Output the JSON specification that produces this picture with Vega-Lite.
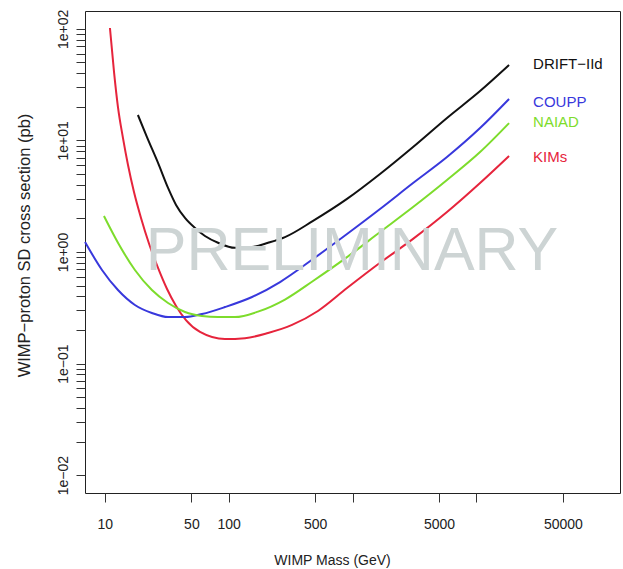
{
  "$schema": "https://vega.github.io/schema/vega-lite/v6.json",
  "autosize": {"type": "none"},
  "padding": {"left": 85, "top": 11, "right": 3, "bottom": 76},
  "width": 535,
  "height": 482,
  "background": "white",
  "config": {
    "font": "Liberation Sans",
    "view": {"stroke": "#222222", "strokeWidth": 1},
    "axis": {"grid": false, "domain": false, "tickColor": "#333333", "labelColor": "#222222", "titleColor": "#222222", "labelFontSize": 14, "titleFontSize": 14, "titleFontWeight": "normal", "tickSize": 9}
  },
  "datasets": {
    "curves": [
      {"series": "KIMs", "mass": 11.0, "xsec": 101.8},
      {"series": "KIMs", "mass": 11.87, "xsec": 41.0},
      {"series": "KIMs", "mass": 12.77, "xsec": 19.9},
      {"series": "KIMs", "mass": 14.02, "xsec": 10.5},
      {"series": "KIMs", "mass": 15.39, "xsec": 6.02},
      {"series": "KIMs", "mass": 17.2, "xsec": 3.45},
      {"series": "KIMs", "mass": 19.6, "xsec": 2.02},
      {"series": "KIMs", "mass": 22.8, "xsec": 1.18},
      {"series": "KIMs", "mass": 26.9, "xsec": 0.72},
      {"series": "KIMs", "mass": 31.8, "xsec": 0.466},
      {"series": "KIMs", "mass": 37.6, "xsec": 0.328},
      {"series": "KIMs", "mass": 45.2, "xsec": 0.245},
      {"series": "KIMs", "mass": 58.7, "xsec": 0.192},
      {"series": "KIMs", "mass": 93.4, "xsec": 0.166},
      {"series": "KIMs", "mass": 135.5, "xsec": 0.169},
      {"series": "KIMs", "mass": 208, "xsec": 0.188},
      {"series": "KIMs", "mass": 325, "xsec": 0.222},
      {"series": "KIMs", "mass": 526, "xsec": 0.296},
      {"series": "KIMs", "mass": 903, "xsec": 0.475},
      {"series": "KIMs", "mass": 1668, "xsec": 0.80},
      {"series": "KIMs", "mass": 3083, "xsec": 1.31},
      {"series": "KIMs", "mass": 5794, "xsec": 2.28},
      {"series": "KIMs", "mass": 10715, "xsec": 4.15},
      {"series": "KIMs", "mass": 18370, "xsec": 7.25},
      {"series": "COUPP", "mass": 6.92, "xsec": 1.23},
      {"series": "COUPP", "mass": 9.49, "xsec": 0.69},
      {"series": "COUPP", "mass": 12.77, "xsec": 0.456},
      {"series": "COUPP", "mass": 17.5, "xsec": 0.335},
      {"series": "COUPP", "mass": 24.0, "xsec": 0.284},
      {"series": "COUPP", "mass": 32.4, "xsec": 0.261},
      {"series": "COUPP", "mass": 44.4, "xsec": 0.261},
      {"series": "COUPP", "mass": 60.9, "xsec": 0.278},
      {"series": "COUPP", "mass": 93.4, "xsec": 0.321},
      {"series": "COUPP", "mass": 154.5, "xsec": 0.395},
      {"series": "COUPP", "mass": 260, "xsec": 0.538},
      {"series": "COUPP", "mass": 480, "xsec": 0.865},
      {"series": "COUPP", "mass": 903, "xsec": 1.45},
      {"series": "COUPP", "mass": 1668, "xsec": 2.43},
      {"series": "COUPP", "mass": 3083, "xsec": 4.15},
      {"series": "COUPP", "mass": 5794, "xsec": 7.10},
      {"series": "COUPP", "mass": 10715, "xsec": 12.9},
      {"series": "COUPP", "mass": 18370, "xsec": 23.5},
      {"series": "NAIAD", "mass": 9.84, "xsec": 2.10},
      {"series": "NAIAD", "mass": 12.77, "xsec": 1.21},
      {"series": "NAIAD", "mass": 17.5, "xsec": 0.69},
      {"series": "NAIAD", "mass": 24.0, "xsec": 0.456},
      {"series": "NAIAD", "mass": 32.4, "xsec": 0.349},
      {"series": "NAIAD", "mass": 44.4, "xsec": 0.290},
      {"series": "NAIAD", "mass": 60.9, "xsec": 0.267},
      {"series": "NAIAD", "mass": 82.0, "xsec": 0.261},
      {"series": "NAIAD", "mass": 112.4, "xsec": 0.261},
      {"series": "NAIAD", "mass": 172.6, "xsec": 0.292},
      {"series": "NAIAD", "mass": 285, "xsec": 0.375},
      {"series": "NAIAD", "mass": 480, "xsec": 0.55},
      {"series": "NAIAD", "mass": 903, "xsec": 0.90},
      {"series": "NAIAD", "mass": 1668, "xsec": 1.51},
      {"series": "NAIAD", "mass": 3083, "xsec": 2.53},
      {"series": "NAIAD", "mass": 5794, "xsec": 4.42},
      {"series": "NAIAD", "mass": 10715, "xsec": 7.87},
      {"series": "NAIAD", "mass": 18370, "xsec": 14.3},
      {"series": "DRIFT−IId", "mass": 18.5, "xsec": 16.9},
      {"series": "DRIFT−IId", "mass": 21.9, "xsec": 10.7},
      {"series": "DRIFT−IId", "mass": 26.9, "xsec": 6.28},
      {"series": "DRIFT−IId", "mass": 32.4, "xsec": 3.75},
      {"series": "DRIFT−IId", "mass": 37.6, "xsec": 2.64},
      {"series": "DRIFT−IId", "mass": 44.4, "xsec": 2.02},
      {"series": "DRIFT−IId", "mass": 53.5, "xsec": 1.64},
      {"series": "DRIFT−IId", "mass": 64.4, "xsec": 1.39},
      {"series": "DRIFT−IId", "mass": 82.0, "xsec": 1.21},
      {"series": "DRIFT−IId", "mass": 112.4, "xsec": 1.09},
      {"series": "DRIFT−IId", "mass": 154.5, "xsec": 1.11},
      {"series": "DRIFT−IId", "mass": 208, "xsec": 1.21},
      {"series": "DRIFT−IId", "mass": 285, "xsec": 1.36},
      {"series": "DRIFT−IId", "mass": 480, "xsec": 1.90},
      {"series": "DRIFT−IId", "mass": 903, "xsec": 2.99},
      {"series": "DRIFT−IId", "mass": 1668, "xsec": 5.00},
      {"series": "DRIFT−IId", "mass": 3083, "xsec": 8.73},
      {"series": "DRIFT−IId", "mass": 5794, "xsec": 15.9},
      {"series": "DRIFT−IId", "mass": 10715, "xsec": 27.7},
      {"series": "DRIFT−IId", "mass": 18370, "xsec": 47.4}
    ],
    "labels": [
      {"series": "DRIFT−IId", "mass": 28700, "xsec": 48.4},
      {"series": "COUPP", "mass": 28700, "xsec": 22.1},
      {"series": "NAIAD", "mass": 28700, "xsec": 14.6},
      {"series": "KIMs", "mass": 28700, "xsec": 7.1}
    ],
    "watermark": [
      {"text": "PRELIMINARY", "mass": 991, "xsec": 0.69}
    ]
  },
  "layer": [
    {
      "data": {"name": "curves"},
      "mark": {"type": "line", "strokeWidth": 2, "interpolate": "monotone"},
      "encoding": {
        "x": {"field": "mass", "type": "quantitative",
          "scale": {"type": "log", "domain": [6.918, 144544], "nice": false, "zero": false},
          "axis": {
            "title": "WIMP Mass (GeV)",
            "values": [10, 50, 100, 500, 1000, 5000, 10000, 50000],
            "labelExpr": "datum.value==1000||datum.value==10000?'':format(datum.value,'d')",
            "labelOverlap": false,
            "labelPadding": 15,
            "titleX": 247,
            "titleY": 71,
            "titleAlign": "center",
            "titleBaseline": "alphabetic"
          }
        },
        "y": {"field": "xsec", "type": "quantitative",
          "scale": {"type": "log", "domain": [0.006918, 144.54], "nice": false, "zero": false},
          "axis": {
            "title": "WIMP−proton SD cross section (pb)",
            "titleFontSize": 16.5,
            "values": [0.01,0.02,0.03,0.04,0.05,0.06,0.07,0.08,0.09,0.1,0.2,0.3,0.4,0.5,0.6,0.7,0.8,0.9,1,2,3,4,5,6,7,8,9,10,20,30,40,50,60,70,80,90,100],
            "labelExpr": "datum.value==100?'1e+02':datum.value==10?'1e+01':datum.value==1?'1e+00':datum.value==0.1?'1e−01':datum.value==0.01?'1e−02':''",
            "labelOverlap": false,
            "labelAngle": 270,
            "labelAlign": "center",
            "labelBaseline": "alphabetic",
            "labelPadding": 9,
            "titleAngle": 270,
            "titleX": -56,
            "titleY": 234,
            "titleAlign": "center",
            "titleBaseline": "alphabetic"
          }
        },
        "color": {"field": "series", "type": "nominal",
          "scale": {"domain": ["DRIFT−IId", "COUPP", "NAIAD", "KIMs"], "range": ["#111111", "#3838dc", "#7ddc2c", "#e6243c"]},
          "legend": null},
        "detail": {"field": "series"}
      }
    },
    {
      "data": {"name": "labels"},
      "mark": {"type": "text", "align": "left", "baseline": "middle", "fontSize": 15},
      "encoding": {
        "x": {"field": "mass", "type": "quantitative"},
        "y": {"field": "xsec", "type": "quantitative"},
        "text": {"field": "series"},
        "color": {"field": "series", "type": "nominal", "legend": null}
      }
    },
    {
      "data": {"name": "watermark"},
      "mark": {"type": "text", "align": "center", "baseline": "alphabetic", "fontSize": 61, "color": "#cdd4d4"},
      "encoding": {
        "x": {"field": "mass", "type": "quantitative"},
        "y": {"field": "xsec", "type": "quantitative"},
        "text": {"field": "text"}
      }
    }
  ]
}
